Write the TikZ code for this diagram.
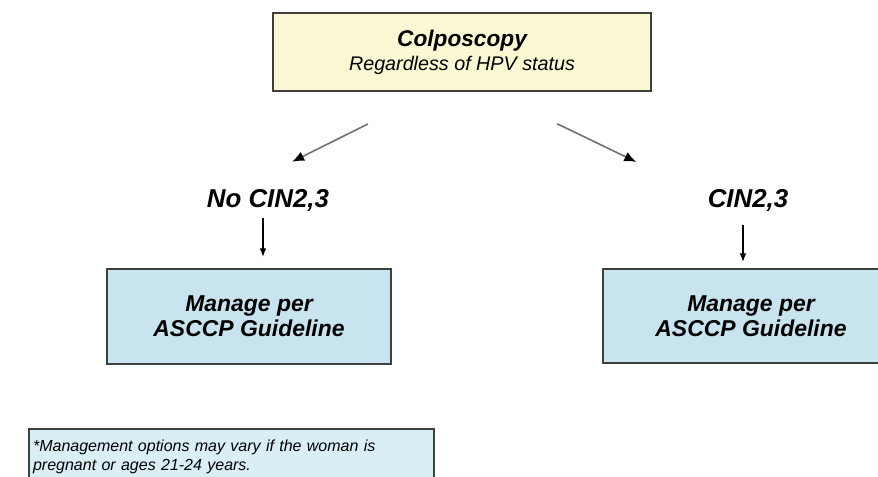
\documentclass[tikz,border=0pt]{standalone}
\usepackage{fontspec}
\setmainfont{Liberation Sans}
\usetikzlibrary{arrows.meta}
\definecolor{boxline}{RGB}{64,62,62}
\definecolor{colpobg}{RGB}{250,248,210}
\definecolor{managebg}{RGB}{200,228,238}
\definecolor{notebg}{RGB}{218,238,246}
\definecolor{arrgray}{RGB}{122,108,108}

\begin{document}
\begin{tikzpicture}[x=0.75pt, y=-0.75pt,
  box/.style={draw=boxline, line width=1.6pt, align=center, inner sep=0pt},
  big/.style={font=\fontsize{19.4}{22}\selectfont\bfseries\itshape, inner sep=0pt, anchor=base},
  diag/.style={-{Latex[length=9pt,width=7.5pt,black]}, arrgray, line width=1.2pt},
  down/.style={-{Latex[length=6.5pt,width=5pt]}, black, line width=0.9pt}]
  \useasboundingbox (0,0) rectangle (878,477);
  \clip (0,0) rectangle (878,477);
  \node[box,fill=colpobg,minimum width=283.5pt,minimum height=58.5pt,font=\fontsize{14.8}{18}\selectfont\itshape] (colpo) at (462,52) {{\fontsize{17}{18}\selectfont\bfseries Colposcopy}\\Regardless of HPV status};
  \node[big] (nocin) at (268,208) {No CIN2,3};
  \node[big] (cin) at (748,208) {CIN2,3};
  \node[box,fill=managebg,minimum width=213pt,minimum height=71.25pt,font=\fontsize{17.2}{18.75}\selectfont\bfseries\itshape] (mgl) at (249,316.5) {Manage per\\ASCCP Guideline};
  \node[box,fill=managebg,minimum width=222pt,minimum height=70.5pt,font=\fontsize{17.2}{18.75}\selectfont\bfseries\itshape] (mgr) at (751,316) {Manage per\\ASCCP Guideline};
  \node[box,fill=notebg,anchor=north west,align=left,text width=297.75pt,inner xsep=3pt,inner ysep=8pt,font=\fontsize{12}{14.5}\selectfont\itshape] (note) at (28,428) {*Management options may vary if the woman is\\pregnant or ages 21-24 years.};
  \draw[diag,shorten <=53.7pt,shorten >=47pt] ([xshift=-22.5pt]colpo.south) -- ([xshift=-24pt]nocin.north);
  \draw[diag,shorten <=54.8pt,shorten >=47.9pt] ([xshift=22pt]colpo.south) -- ([xshift=-10.2pt]cin.north west);
  \draw[down,shorten <=4.5pt,shorten >=8.25pt] ([xshift=-3.75pt]nocin.south) -- ([xshift=-3.75pt]nocin.south |- mgl.north);
  \draw[down,shorten <=9.75pt,shorten >=4.5pt] ([xshift=-3.75pt]cin.south) -- ([xshift=-3.75pt]cin.south |- mgr.north);
\end{tikzpicture}
\end{document}
